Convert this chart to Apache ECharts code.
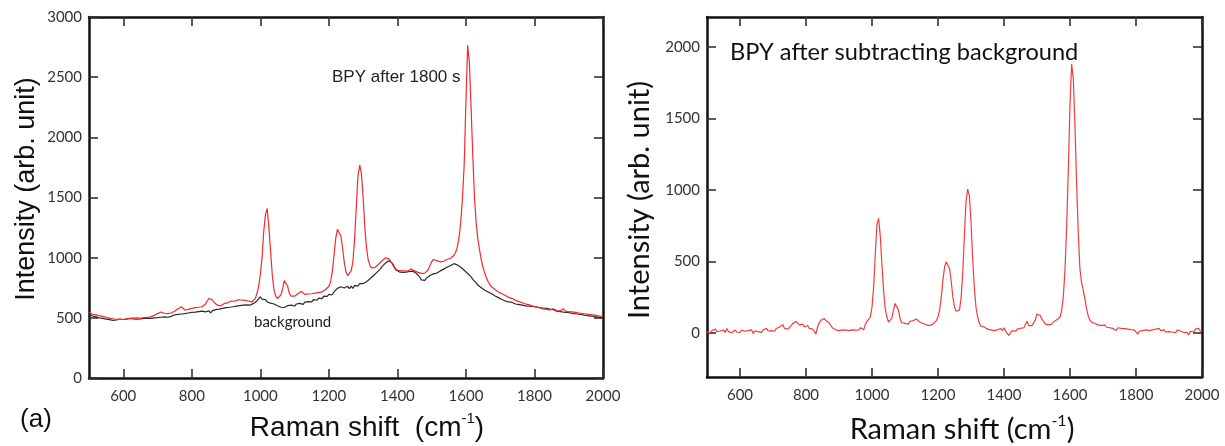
<!DOCTYPE html>
<html>
<head>
<meta charset="utf-8">
<script src="https://cdn.jsdelivr.net/npm/echarts@6/dist/echarts.min.js"></script>
<style>
html,body{margin:0;padding:0;background:#fff;}
#chart{width:1225px;height:446px;}
</style>
</head>
<body>
<div id="chart"></div>
<script>
// Raman shift (cm-1), shared by all three spectra
const ramanShift = [
500,505,510,515,520,525,530,535,540,545,550,555,560,565,570,575,580,585,590,595,
600,605,610,615,620,625,630,635,640,645,650,655,660,665,670,675,680,685,690,695,
700,705,710,715,720,725,730,735,740,745,750,755,760,765,770,775,780,785,790,795,
800,805,810,815,820,825,830,835,840,845,850,855,860,865,870,875,880,885,890,895,
900,905,910,915,920,925,930,935,940,945,950,955,960,965,970,975,980,985,990,995,
1000,1005,1010,1015,1020,1025,1030,1035,1040,1045,1050,1055,1060,1065,1070,1075,1080,1085,1090,1095,
1100,1105,1110,1115,1120,1125,1130,1135,1140,1145,1150,1155,1160,1165,1170,1175,1180,1185,1190,1195,
1200,1205,1210,1215,1220,1225,1230,1235,1240,1245,1250,1255,1260,1265,1270,1275,1280,1285,1290,1295,
1300,1305,1310,1315,1320,1325,1330,1335,1340,1345,1350,1355,1360,1365,1370,1375,1380,1385,1390,1395,
1400,1405,1410,1415,1420,1425,1430,1435,1440,1445,1450,1455,1460,1465,1470,1475,1480,1485,1490,1495,
1500,1505,1510,1515,1520,1525,1530,1535,1540,1545,1550,1555,1560,1565,1570,1575,1580,1585,1590,1595,
1600,1605,1610,1615,1620,1625,1630,1635,1640,1645,1650,1655,1660,1665,1670,1675,1680,1685,1690,1695,
1700,1705,1710,1715,1720,1725,1730,1735,1740,1745,1750,1755,1760,1765,1770,1775,1780,1785,1790,1795,
1800,1805,1810,1815,1820,1825,1830,1835,1840,1845,1850,1855,1860,1865,1870,1875,1880,1885,1890,1895,
1900,1905,1910,1915,1920,1925,1930,1935,1940,1945,1950,1955,1960,1965,1970,1975,1980,1985,1990,1995,2000
];

// (a) BPY after 1800 s (red)
const bpyAfter1800 = [
548,540,530,536,525,530,518,524,512,520,505,512,498,508,492,500,488,502,490,497,
486,500,492,505,495,508,498,510,500,505,496,510,502,512,505,515,508,512,520,530,
535,540,548,545,538,528,535,542,540,548,555,565,575,585,592,580,565,560,570,575,
578,582,585,590,588,595,592,600,615,640,660,665,650,628,615,605,610,600,612,620,
618,625,632,640,645,638,642,650,640,648,638,645,630,640,625,632,640,660,700,760,
860,1000,1220,1360,1410,1250,1050,850,730,680,660,665,690,740,810,820,760,700,680,675,
680,690,700,712,720,705,695,702,698,705,700,695,705,700,710,705,715,722,735,745,
760,800,880,1020,1160,1235,1240,1180,1080,960,880,850,860,890,960,1150,1420,1680,1770,1700,
1500,1250,1080,980,935,915,910,920,930,945,960,975,990,998,995,990,975,950,920,905,
895,888,892,885,890,895,888,900,905,898,890,885,878,872,870,868,872,880,900,935,
965,985,990,975,960,965,975,970,980,985,990,995,1005,1020,1045,1090,1170,1300,1500,1780,
2300,2765,2620,2250,1850,1500,1280,1150,1060,980,920,870,830,800,775,758,748,735,728,715,
708,700,692,685,682,670,665,660,650,645,640,635,630,625,622,615,612,608,605,598,
600,592,588,585,580,575,578,570,572,565,568,575,565,560,570,558,565,575,555,550,
552,545,550,540,545,538,540,530,536,528,532,522,528,520,525,515,520,512,515,505,510
];

// (a) background (black)
const background = [
530,520,515,522,508,515,500,510,495,505,490,498,485,495,478,490,482,476,488,480,
486,478,490,482,495,485,492,498,488,500,492,505,495,502,498,506,496,505,500,510,
502,512,505,518,508,515,505,520,512,518,525,515,528,520,532,525,535,528,540,532,
545,538,548,542,552,545,555,560,550,565,558,540,560,575,568,580,572,585,578,590,
585,595,588,600,592,605,598,610,602,612,605,615,608,612,605,615,620,628,640,655,
675,655,648,652,632,642,622,632,615,612,600,602,588,602,586,600,602,592,606,608,
598,615,602,620,622,612,630,616,635,638,632,652,650,646,664,664,660,680,682,678,
695,698,692,716,722,745,732,758,768,748,738,762,742,764,745,768,770,765,784,772,
785,792,800,812,825,838,850,862,878,890,905,925,940,955,965,975,968,955,930,900,
890,882,888,878,885,880,890,885,895,888,880,870,860,840,815,800,812,830,840,852,
858,865,860,872,880,890,895,905,912,920,928,935,945,950,948,940,932,920,905,895,
880,868,852,840,820,805,790,770,760,750,740,730,722,715,705,700,690,682,676,668,
660,652,648,640,635,632,625,628,620,615,618,610,612,605,608,600,604,598,600,594,
596,590,592,585,588,580,575,578,570,572,565,568,560,555,562,552,558,548,552,545,
548,540,545,535,540,532,535,528,530,522,526,518,522,515,518,510,514,506,510,500,502
];

// right panel: BPY after subtracting background
const bpySubtracted = [
5,10,0,15,5,25,8,0,12,5,18,2,30,8,15,0,10,20,5,12,
3,18,28,10,0,15,5,20,-5,12,25,8,15,2,20,10,30,12,22,15,
25,10,30,20,40,35,55,30,40,25,35,50,65,75,80,70,55,45,60,40,
35,50,30,20,25,10,-10,40,70,85,95,100,85,90,70,50,35,25,20,30,
15,25,20,30,18,28,15,25,20,30,18,28,20,35,22,20,60,80,85,110,
180,320,550,760,800,680,480,300,170,110,75,70,100,160,205,210,160,100,70,60,
65,75,60,80,70,85,90,95,85,75,80,65,70,55,60,50,55,60,70,85,
110,160,250,370,460,495,500,450,360,250,180,150,145,160,240,420,680,920,1005,960,
780,520,320,180,110,70,45,35,40,30,25,35,20,30,15,25,20,10,30,15,
35,10,5,-20,0,15,20,10,25,15,30,20,35,45,80,50,40,50,60,90,
130,140,120,95,80,60,70,55,65,60,75,70,90,85,110,160,260,450,750,1150,
1600,1880,1780,1450,1050,700,450,350,300,240,170,120,90,75,70,65,70,55,60,50,
45,55,40,50,35,45,30,40,15,35,25,30,20,28,18,25,15,22,10,20,
15,-10,10,0,15,5,20,8,15,5,20,10,25,12,30,15,8,20,5,15,
8,20,5,15,0,18,5,12,20,2,15,0,-15,10,20,5,25,15,30,10,20
];

const xTickValues = [600, 800, 1000, 1200, 1400, 1600, 1800, 2000];
const yTickLeft = [0, 500, 1000, 1500, 2000, 2500, 3000];
const yTickRight = [0, 500, 1000, 1500, 2000];

const chart = echarts.init(document.getElementById('chart'));

function xAx(grid, pos, showLabel) {
  return {
    type: 'value', gridIndex: grid, position: pos, min: 500, max: 2000,
    axisLine: {show: true, onZero: false, lineStyle: {color: '#111', width: 2.5}},
    axisTick: {show: true, inside: true, length: 9, customValues: xTickValues.slice(), lineStyle: {color: '#333', width: 1.6}},
    axisLabel: {show: showLabel, customValues: xTickValues.slice(), margin: 11,
                fontFamily: 'Lato', fontSize: 15, color: '#333', formatter: (v) => String(v)},
    splitLine: {show: false}
  };
}
function yAx(grid, pos, showLabel, min, max, ticks) {
  return {
    type: 'value', gridIndex: grid, position: pos, min: min, max: max,
    axisLine: {show: true, onZero: false, lineStyle: {color: '#111', width: 2.5}},
    axisTick: {show: true, inside: true, length: 9, customValues: ticks.slice(), lineStyle: {color: '#333', width: 1.6}},
    axisLabel: {show: showLabel, customValues: ticks.slice(), margin: 7,
                fontFamily: 'Lato', fontSize: 15, color: '#333', formatter: (v) => String(v)},
    splitLine: {show: false}
  };
}

const pairs = (ys) => ramanShift.map((x, i) => [x, ys[i]]);

const titleFont = 'Liberation Sans';

chart.setOption({
  animation: false,
  grid: [
    {left: 89, top: 17, width: 514, height: 361},
    {left: 707, top: 17, width: 495, height: 360}
  ],
  xAxis: [
    xAx(0, 'bottom', true), xAx(0, 'top', false),
    xAx(1, 'bottom', true), xAx(1, 'top', false)
  ],
  yAxis: [
    yAx(0, 'left', true, 0, 3000, yTickLeft), yAx(0, 'right', false, 0, 3000, yTickLeft),
    yAx(1, 'left', true, -310, 2210, yTickRight), yAx(1, 'right', false, -310, 2210, yTickRight)
  ],
  series: [
    {name: 'background', type: 'line', xAxisIndex: 0, yAxisIndex: 0, data: pairs(background),
     showSymbol: false, lineStyle: {color: '#2a2a2a', width: 1.2}},
    {name: 'BPY after 1800 s', type: 'line', xAxisIndex: 0, yAxisIndex: 0, data: pairs(bpyAfter1800),
     showSymbol: false, lineStyle: {color: '#f52a2a', width: 1.2}},
    {name: 'BPY after subtracting background', type: 'line', xAxisIndex: 2, yAxisIndex: 2, data: pairs(bpySubtracted),
     showSymbol: false, lineStyle: {color: '#f23c3c', width: 1.2}}
  ],
  graphic: [
    {type: 'text', x: 27, y: 189, rotation: Math.PI / 2,
     style: {text: 'Intensity (arb. unit)', fontFamily: titleFont, fontSize: 27, fill: '#111', align: 'center', verticalAlign: 'middle'}},
    {type: 'text', x: 367, y: 428,
     style: {text: '{a|Raman shift  (cm}{s|-1}{a|)}', align: 'center', verticalAlign: 'middle',
       rich: {a: {fontFamily: titleFont, fontSize: 28, fill: '#111', lineHeight: 34},
              s: {fontFamily: titleFont, fontSize: 15, fill: '#111', lineHeight: 20, verticalAlign: 'top'}}}},
    {type: 'text', x: 36, y: 420,
     style: {text: '(a)', fontFamily: titleFont, fontSize: 26, fill: '#111', align: 'center', verticalAlign: 'middle'}},
    {type: 'text', x: 332, y: 77,
     style: {text: 'BPY after 1800 s', fontFamily: titleFont, fontSize: 17, fill: '#222', align: 'left', verticalAlign: 'middle'}},
    {type: 'text', x: 254, y: 322,
     style: {text: 'background', fontFamily: 'Lato', fontSize: 15, fill: '#222', align: 'left', verticalAlign: 'middle'}},
    {type: 'text', x: 730, y: 52,
     style: {text: 'BPY after subtracting background', fontFamily: 'Lato', fontSize: 23.6, fill: '#111', align: 'left', verticalAlign: 'middle'}},
    {type: 'text', x: 640, y: 200, rotation: Math.PI / 2,
     style: {text: 'Intensity (arb. unit)', fontFamily: 'Lato', fontSize: 29, fill: '#111', align: 'center', verticalAlign: 'middle'}},
    {type: 'text', x: 962, y: 430,
     style: {text: '{a|Raman shift (cm}{s|-1}{a|)}', align: 'center', verticalAlign: 'middle',
       rich: {a: {fontFamily: 'Lato', fontSize: 29, fill: '#111', lineHeight: 34},
              s: {fontFamily: 'Lato', fontSize: 16, fill: '#111', lineHeight: 20, verticalAlign: 'top'}}}}
  ]
});
</script>
</body>
</html>
